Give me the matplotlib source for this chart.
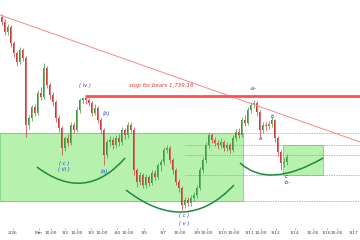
import numpy as np
import matplotlib
matplotlib.use('Agg')
import matplotlib.pyplot as plt
from matplotlib.path import Path
from matplotlib.patches import PathPatch, Rectangle

# candle data (one bar per slot), open = previous close
first_open = 1818
close = [1813, 1803, 1808, 1792, 1782, 1773, 1785, 1777, 1710, 1717,
         1728, 1722, 1742, 1738, 1767, 1750, 1740, 1733, 1717, 1707,
         1687, 1697, 1692, 1710, 1705, 1725, 1735, 1737, 1735, 1732,
         1722, 1727, 1715, 1705, 1680, 1693, 1695, 1690, 1697, 1693,
         1705, 1700, 1710, 1705, 1665, 1653, 1660, 1650, 1658, 1652,
         1662, 1658, 1670, 1673, 1685, 1687, 1675, 1665, 1653, 1647,
         1630, 1635, 1632, 1637, 1640, 1647, 1665, 1675, 1690, 1700,
         1695, 1692, 1690, 1693, 1687, 1690, 1685, 1697, 1703, 1700,
         1715, 1712, 1725, 1730, 1732, 1723, 1705, 1710, 1709, 1711,
         1715, 1697, 1683, 1672, 1673, 1678]
high = [1821, 1816, 1811, 1810, 1794, 1784, 1788, 1787, 1779, 1720,
        1730, 1731, 1745, 1748, 1772, 1769, 1752, 1743, 1735, 1720,
        1709, 1699, 1701, 1713, 1713, 1728, 1737, 1738, 1739, 1737,
        1734, 1731, 1729, 1717, 1707, 1696, 1699, 1698, 1700, 1701,
        1708, 1707, 1713, 1713, 1708, 1667, 1663, 1662, 1661, 1660,
        1665, 1665, 1672, 1676, 1688, 1690, 1689, 1677, 1667, 1656,
        1649, 1638, 1638, 1640, 1643, 1650, 1668, 1678, 1693, 1703,
        1702, 1698, 1695, 1697, 1695, 1693, 1692, 1700, 1706, 1707,
        1718, 1720, 1728, 1733, 1735, 1734, 1725, 1713, 1713, 1714,
        1718, 1716, 1699, 1685, 1677, 1681]
low = [1810, 1800, 1800, 1788, 1778, 1769, 1771, 1774, 1698, 1706,
       1714, 1719, 1720, 1735, 1736, 1747, 1736, 1729, 1713, 1703,
       1680, 1684, 1689, 1690, 1702, 1703, 1722, 1732, 1731, 1729,
       1719, 1720, 1712, 1701, 1670, 1677, 1689, 1686, 1687, 1689,
       1690, 1696, 1697, 1702, 1660, 1648, 1650, 1647, 1647, 1649,
       1650, 1655, 1656, 1664, 1670, 1682, 1672, 1661, 1650, 1643,
       1625, 1627, 1629, 1629, 1634, 1637, 1645, 1662, 1672, 1687,
       1692, 1689, 1686, 1687, 1684, 1684, 1682, 1683, 1694, 1697,
       1698, 1709, 1710, 1722, 1727, 1719, 1698, 1702, 1705, 1706,
       1708, 1693, 1679, 1665, 1668, 1670]

tick_pos = [3.8, 12.5, 16.5, 21.2, 25.2, 29.8, 33.5, 38.5, 42.2, 47.5,
            53.8, 59.5, 65.2, 68.5, 73.8, 77.5, 82.8, 86.5, 91.5, 97.8,
            103.8, 108.5, 111.8, 117.2]
tick_labels = ['2/26', 'Mar', '10:00', '3/2', '10:00', '3/3', '10:00', '3/4',
               '10:00', '3/5', '3/7', '10:00', '3/9', '10:00', '3/10', '10:00',
               '3/11', '10:00', '3/12', '3/14', '10:00', '3/16', '10:00', '3/17']

# annotations
stop_level = 1739.16
stop_start = 27.8
trend_x = [-0.5, 119.5]
trend_y = [1820, 1693]
box_big = [-0.5, 80.5, 1634, 1702]
box_small = [93.8, 107.2, 1660, 1690]
levels_full = [1702, 1634]
levels_right = [1690, 1680, 1660]
levels_right_start = 61.2
arcs = [[(11.8, 1668), (27.2, 1652), (41.2, 1677)],
        [(41.5, 1645), (60.5, 1623), (77.5, 1650)],
        [(79.5, 1672), (91.2, 1660), (107.2, 1677)]]
blue_labels = [('( iv )', 27.8, 1749), ('(b)', 34.8, 1722),
               ('( c )', 20.8, 1672), ('( iii )', 20.8, 1665),
               ('(a)', 34.2, 1664), ('( c )', 60.8, 1619), ('( v )', 60.8, 1612)]
dark_labels = [('-a-', 83.8, 1746), ('b', 90.2, 1719), ('a', 86.2, 1696),
               ('c', 94.8, 1658), ('-b-', 95.2, 1653)]

fig = plt.figure(figsize=(3.6, 2.4), dpi=100)
ax = fig.add_axes([0, 12 / 240, 1, 228 / 240])
ax.set_xlim(-0.5, 119.5)
ax.set_ylim(1607, 1835)

for b in (box_big, box_small):
    ax.add_patch(Rectangle((b[0], b[2]), b[1] - b[0], b[3] - b[2],
                           facecolor='#b6f2ad', edgecolor='#7ad67a', lw=0.6, zorder=1))

for lv in levels_full:
    ax.axhline(lv, color='#9a9a9a', lw=0.5, ls=(0, (2, 1.5)), zorder=2)
for lv in levels_right:
    ax.hlines(lv, levels_right_start, 119.5, color='#9a9a9a', lw=0.5,
              ls=(0, (2, 1.5)), zorder=2)

x = np.arange(len(close))
opens = np.array([first_open] + close[:-1])
cl = np.array(close)
up = cl >= opens
cols = np.where(up, '#3f9a3f', '#d23a3a')
ax.vlines(x, low, high, colors=cols, lw=0.5, zorder=3)
ax.bar(x, np.abs(cl - opens), bottom=np.minimum(cl, opens), width=0.6,
       color=cols, zorder=3, linewidth=0)

ax.plot(trend_x, trend_y, color='#f28a8a', lw=0.7, zorder=4)
ax.hlines(stop_level, stop_start, 119.5, color='#ff5050', lw=2, zorder=4)
ax.text(42.5, 1750, 'stop for bears 1,739.16', color='#ee3333', fontsize=4,
        style='italic', va='center', ha='left', zorder=6)

for p0, b, p2 in arcs:
    p0 = np.array(p0); b = np.array(b); p2 = np.array(p2)
    p1 = 2 * b - (p0 + p2) / 2
    path = Path([p0, p1, p2], [Path.MOVETO, Path.CURVE3, Path.CURVE3])
    ax.add_patch(PathPatch(path, facecolor='none', edgecolor='#1e8a3c', lw=1.1, zorder=5))

for t, lx, ly in blue_labels:
    ax.text(lx, ly, t, color='#2b3fe0', fontsize=3.8, style='italic',
            ha='center', va='center', zorder=6)
for t, lx, ly in dark_labels:
    ax.text(lx, ly, t, color='#333333', fontsize=3.8, style='italic',
            ha='center', va='center', zorder=6)

ax.set_xticks(tick_pos)
ax.set_xticklabels(tick_labels, fontsize=3.2, color='#444444')
ax.tick_params(axis='x', length=1.5, width=0.4, pad=1, color='#888888')
ax.set_yticks([])
for s in ax.spines.values():
    s.set_visible(False)

fig.savefig('out.png', dpi=100)
